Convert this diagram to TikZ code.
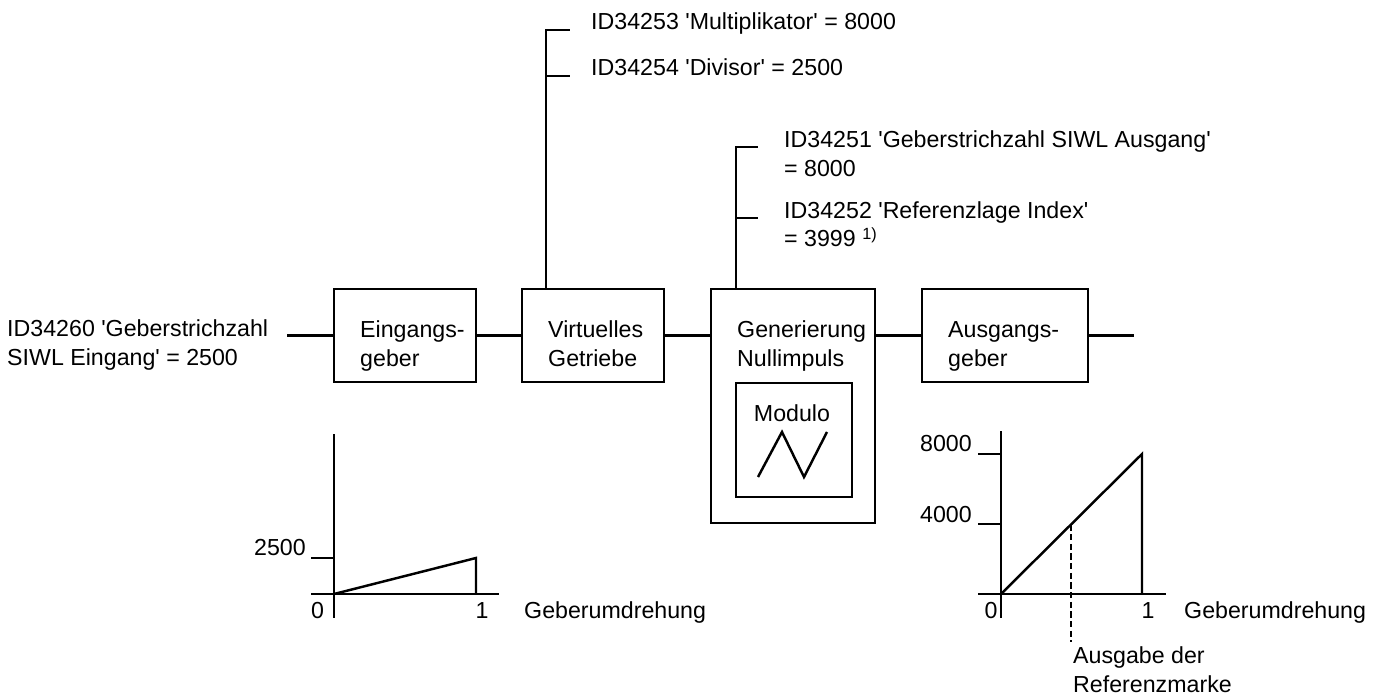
\documentclass[tikz,border=0pt]{standalone}
\usepackage{fontspec}
\setmainfont{Liberation Sans}
\usetikzlibrary{positioning}
\newcommand{\qt}{\textquotesingle}

\begin{document}
\begin{tikzpicture}[x=0.02cm,y=-0.02cm,line width=1.4pt,
		block/.style={draw,minimum height=1.86cm,inner sep=0pt},
		txt/.style={inner sep=0pt,align=left,anchor=base west,font=\fontsize{13.2}{16.5}\selectfont},
		ref/.style={dash pattern=on 3.5pt off 2pt}]
		\useasboundingbox (0,0) rectangle (1384,696);

		% signal path
		\node[block,minimum width=2.84cm] (eing) at (405,335.5) {};
		\node[block,minimum width=2.84cm] (virt) at (593,335.5) {};
		\node[block,minimum width=3.28cm,minimum height=4.68cm] (gen) at (793,406) {};
		\node[block,minimum width=2.32cm,minimum height=2.28cm] (mod) at (794,440) {};
		\node[block,minimum width=3.32cm] (ausg) at (1005,335.5) {};
		\coordinate (in) at (287,335.5);
		\coordinate (out) at (1134,335.5);

		% (base of a two-line text = its last line)
		\node[txt] (eingtxt) at (359,366) {Eingangs-\\geber};
		\node[txt] (virttxt) at (547,366) {Virtuelles\\Getriebe};
		\node[txt] (gentxt) at (736,366) {Generierung\\Nullimpuls};
		\node[txt,anchor=base] (modtxt) at (792,421) {Modulo};
		\node[txt] (ausgtxt) at (947,366) {Ausgangs-\\geber};

		\draw (in) -- (eing.west);
		\draw (eing.east) -- (virt.west);
		\draw (virt.east) -- (virt.east -| gen.west);
		\draw (ausg.west -| gen.east) -- (ausg.west);
		\draw (ausg.east) -- (out);
		\draw (758,477) -- (782,432) -- (804,477) -- (827,432);

		% parameters
		\node[txt] (pin) at (6,365) {ID34260 \qt Geberstrichzahl\\SIWL Eingang\qt{} = 2500};
		\node[txt] (mult) at (590,30) {ID34253 \qt Multiplikator\qt{} = 8000};
		\node[txt] (div) at (590,76) {ID34254 \qt Divisor\qt{} = 2500};
		\node[txt] (pout) at (783,176) {ID34251 \qt Geberstrichzahl SIWL Ausgang\qt\\= 8000};
		\node[txt] (pidx) at (783,247) {ID34252 \qt Referenzlage Index\qt\\= 3999 \textsuperscript{1)}};
		\coordinate (poutb) at ([yshift=5.8mm]pout.base west);
		\coordinate (pidxb) at ([yshift=5.8mm]pidx.base west);

		\coordinate (vtap) at ([xshift=5mm]virt.north west);
		\coordinate (gtap) at ([xshift=5.2mm]gen.north west);
		\draw (vtap) |- ([xshift=-4mm]mult.base west);
		\draw (vtap |- div.base) -- ([xshift=-4mm]div.base west);
		\draw (gtap) |- ([xshift=-5mm]poutb);
		\draw (gtap |- pidxb) -- ([xshift=-5mm]pidxb);

		% Geber Eingang
		\draw (334,434) -- (334,618);
		\draw (311,594) -- (499,594);
		\draw (311,558) -- (334,558);
		\draw (334,594) -- (476,558) -- (476,594);
		\node[txt,anchor=base east] (y1) at (307,555) {2500};
		\node[txt,anchor=base] (x10) at (317.5,618) {0};
		\node[txt,anchor=base] (x11) at (482,618) {1};
		\node[txt] (x1lab) at (523,618) {Geberumdrehung};

		% Geber Ausgang
		\draw (1001,431) -- (1001,618);
		\draw (978,594) -- (1166,594);
		\draw (978,454) -- (1001,454);
		\draw (978,524) -- (1001,524);
		\draw (1001,594) -- (1142,454) -- (1142,594);
		\draw[ref] (1071,524.5) -- (1071,642);
		\node[txt,anchor=base east] (y2a) at (973,451) {8000};
		\node[txt,anchor=base east] (y2b) at (973,522) {4000};
		\node[txt,anchor=base] (x20) at (991,618) {0};
		\node[txt,anchor=base] (x21) at (1148,618) {1};
		\node[txt] (x2lab) at (1183,618) {Geberumdrehung};
		\node[txt] (mark) at (1072,692) {Ausgabe der\\Referenzmarke};
	\end{tikzpicture}
\end{document}
